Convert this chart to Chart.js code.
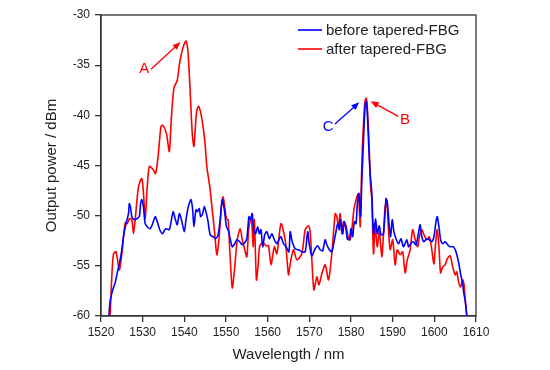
<!DOCTYPE html>
<html>
<head>
<meta charset="utf-8">
<script src="https://cdn.jsdelivr.net/npm/chart.js@4.4.1/dist/chart.umd.min.js"></script>
<style>
  html, body { margin: 0; padding: 0; background: #fff; }
  #spectrum { display: block; }
</style>
</head>
<body>
<canvas id="spectrum" width="550" height="370"></canvas>
<script>
// spectrum before the tapered FBG (blue)
const wavelengthBefore = [
  1521.9, 1522.2, 1522.8, 1523.4, 1523.9, 1524.4, 1525.0, 1525.4, 1526.0, 1526.6,
  1526.8, 1527.1, 1527.4, 1528.0, 1528.6, 1529.2, 1529.5, 1529.8, 1530.2, 1530.6,
  1531.1, 1531.8, 1532.4, 1533.0, 1533.5, 1534.1, 1534.8, 1535.3, 1535.7, 1536.4,
  1536.9, 1537.3, 1537.8, 1538.3, 1538.8, 1539.3, 1540.0, 1540.4, 1540.8, 1541.1,
  1541.6, 1542.0, 1542.3, 1542.8, 1543.1, 1543.6, 1543.9, 1544.4, 1544.8, 1545.3,
  1545.7, 1546.2, 1546.9, 1547.5, 1548.1, 1548.6, 1549.1, 1549.6, 1550.1, 1550.5,
  1551.0, 1551.5, 1552.1, 1552.6, 1553.3, 1553.9, 1554.5, 1555.0, 1555.5, 1555.8,
  1556.3, 1556.6, 1557.1, 1557.6, 1558.0, 1558.4, 1558.8, 1559.3, 1559.8, 1560.4,
  1561.0, 1561.6, 1562.2, 1562.8, 1563.2, 1563.8, 1564.4, 1565.1, 1565.4, 1565.9,
  1566.6, 1567.4, 1568.2, 1569.0, 1569.6, 1570.0, 1570.6, 1571.4, 1572.0, 1572.6,
  1573.2, 1573.8, 1574.2, 1574.8, 1575.4, 1575.8, 1576.3, 1576.8, 1577.2, 1577.5,
  1578.0, 1578.4, 1578.8, 1579.1, 1579.6, 1580.0, 1580.4, 1580.8, 1581.2, 1581.6,
  1581.9, 1582.3, 1582.6, 1583.0, 1583.4, 1583.7, 1584.0, 1584.3, 1584.6, 1585.0,
  1585.4, 1585.9, 1586.3, 1586.8, 1587.2, 1587.8, 1588.4, 1588.7, 1589.2, 1589.5,
  1589.9, 1590.3, 1590.8, 1591.4, 1592.0, 1592.6, 1593.4, 1593.8, 1594.3, 1594.9,
  1595.6, 1596.2, 1596.6, 1597.0, 1597.5, 1598.2, 1598.8, 1599.4, 1599.9, 1600.4,
  1600.7, 1601.2, 1601.5, 1602.0, 1602.6, 1603.2, 1603.8, 1604.6, 1605.2, 1605.8,
  1606.3, 1606.8, 1607.1, 1607.4, 1607.8
];
const powerBefore = [
  -60.0, -58.5, -57.4, -56.7, -55.7, -54.8, -53.4, -52.1, -50.8, -49.8,
  -48.8, -49.2, -50.1, -50.4, -50.3, -50.1, -48.8, -48.4, -49.2, -50.8,
  -51.1, -51.3, -50.8, -50.1, -50.6, -51.4, -51.8, -51.4, -51.3, -51.4,
  -50.4, -49.6, -50.3, -50.9, -49.8, -50.4, -51.6, -50.4, -49.4, -48.9,
  -48.4, -49.4, -51.1, -49.4, -49.6, -49.3, -50.1, -49.8, -49.1, -49.8,
  -50.6, -51.9, -52.1, -52.3, -51.9, -50.4, -48.4, -49.4, -51.1, -51.4,
  -52.3, -53.1, -52.8, -52.4, -52.6, -52.9, -52.7, -52.3, -50.1, -50.4,
  -49.8, -51.3, -51.8, -51.1, -51.8, -51.4, -53.1, -51.9, -51.6, -52.3,
  -51.8, -52.4, -52.8, -52.3, -52.1, -52.8, -53.1, -53.6, -51.6, -52.6,
  -53.3, -53.4, -53.6, -53.6, -51.6, -52.9, -54.0, -53.3, -53.0, -53.4,
  -53.5, -52.4, -52.9, -53.4, -53.6, -52.9, -51.8, -50.8, -51.4, -50.4,
  -51.8, -50.6, -51.3, -52.3, -52.4, -51.3, -52.1, -50.6, -50.8, -48.4,
  -47.8, -50.1, -46.5, -42.5, -39.0, -38.6, -40.5, -43.5, -45.8, -47.8,
  -51.8, -50.3, -51.8, -51.0, -51.9, -51.8, -48.3, -48.6, -51.1, -52.1,
  -50.4, -51.6, -52.3, -52.8, -52.3, -53.1, -52.4, -53.1, -52.8, -52.6,
  -52.9, -51.7, -50.9, -52.1, -52.6, -52.3, -52.4, -52.6, -52.1, -50.6,
  -50.1, -51.4, -52.4, -52.8, -52.6, -52.9, -53.1, -53.1, -53.6, -54.6,
  -55.8, -56.8, -57.8, -58.4, -60.0
];

// spectrum after the tapered FBG (red)
const wavelengthAfter = [
  1522.2, 1522.6, 1523.0, 1523.6, 1524.4, 1525.0, 1525.8, 1526.3, 1526.8, 1527.4,
  1527.8, 1528.2, 1529.0, 1529.8, 1530.2, 1530.6, 1531.1, 1531.6, 1532.5, 1533.1,
  1533.7, 1534.4, 1534.9, 1535.7, 1536.4, 1536.9, 1537.5, 1538.3, 1538.9, 1539.7,
  1540.4, 1540.9, 1541.5, 1541.9, 1542.3, 1542.9, 1543.4, 1544.1, 1544.9, 1545.4,
  1546.1, 1546.7, 1547.3, 1547.8, 1548.3, 1548.9, 1549.3, 1549.7, 1550.1, 1550.5,
  1550.9, 1551.5, 1552.1, 1552.7, 1553.4, 1553.9, 1554.5, 1555.0, 1555.5, 1556.1,
  1556.5, 1556.8, 1557.3, 1557.7, 1558.1, 1558.9, 1559.6, 1560.2, 1560.8, 1561.6,
  1562.2, 1563.2, 1564.2, 1565.0, 1565.4, 1566.2, 1567.0, 1568.2, 1569.0, 1569.8,
  1570.2, 1570.6, 1571.1, 1571.8, 1572.3, 1573.0, 1573.8, 1574.6, 1575.4, 1576.2,
  1576.6, 1577.0, 1577.4, 1577.8, 1578.2, 1578.8, 1579.4, 1579.8, 1580.2, 1580.7,
  1581.4, 1581.8, 1582.2, 1582.4, 1582.7, 1583.1, 1583.4, 1583.7, 1584.0, 1584.4,
  1584.7, 1585.0, 1585.4, 1585.8, 1586.3, 1586.8, 1587.4, 1587.8, 1588.2, 1588.6,
  1589.0, 1589.4, 1590.0, 1590.6, 1591.1, 1591.8, 1592.4, 1593.0, 1593.5, 1594.2,
  1594.8, 1595.4, 1596.0, 1596.4, 1597.0, 1597.5, 1598.2, 1598.8, 1599.4, 1599.9,
  1600.3, 1600.7, 1601.1, 1601.5, 1602.0, 1602.6, 1603.1, 1603.8, 1604.4, 1605.0,
  1605.4, 1605.8, 1606.3, 1606.8, 1607.1, 1607.4, 1607.8
];
const powerAfter = [
  -59.9, -56.0, -53.8, -53.6, -55.4, -53.8, -50.7, -50.8, -50.3, -50.4,
  -51.8, -50.4, -47.1, -46.3, -47.8, -50.3, -47.1, -45.1, -45.4, -45.8,
  -44.1, -41.1, -41.0, -41.8, -43.6, -40.2, -37.3, -36.5, -34.7, -33.2,
  -32.6, -33.8, -38.5, -41.8, -43.1, -39.8, -39.1, -40.1, -42.5, -45.1,
  -47.1, -49.4, -51.8, -53.9, -52.4, -49.1, -48.1, -49.1, -50.3, -50.4,
  -53.4, -57.2, -55.1, -52.4, -51.3, -52.4, -53.4, -54.1, -51.1, -50.3,
  -53.1, -50.4, -56.4, -55.0, -53.0, -52.7, -53.0, -53.0, -54.9, -53.1,
  -53.8, -50.8, -52.4, -55.9, -54.8, -53.4, -54.4, -53.8, -51.4, -51.0,
  -51.6, -54.4, -57.4, -56.1, -56.9, -55.8, -54.9, -56.4, -53.8, -49.8,
  -50.1, -51.1, -49.8, -51.8, -50.6, -51.0, -52.3, -52.4, -51.4, -49.4,
  -48.1, -47.8, -51.1, -48.1, -43.5, -40.0, -38.5, -38.3, -39.8, -43.5,
  -47.0, -48.4, -53.8, -51.1, -53.1, -51.6, -54.1, -51.8, -49.1, -48.8,
  -51.4, -53.4, -52.4, -54.9, -53.4, -53.9, -53.6, -55.7, -54.4, -53.4,
  -51.4, -52.4, -53.1, -52.1, -51.4, -51.9, -52.4, -52.1, -53.4, -54.8,
  -52.8, -51.4, -53.1, -55.7, -55.1, -54.9, -54.3, -54.0, -55.1, -55.9,
  -55.6, -56.6, -57.1, -56.4, -56.8, -58.4, -60.0
];

const seriesLabels = ["before tapered-FBG", "after tapered-FBG"];
const seriesColors = ["#0000ff", "#ff0000"];

const xTickValues = [1520, 1530, 1540, 1550, 1560, 1570, 1580, 1590, 1600, 1610];
const yTickValues = [-60, -55, -50, -45, -40, -35, -30];

// labelled arrows, in data units (nm, dBm)
const markLetters = ["A", "B", "C"];
const markColors = ["#ff0000", "#ff0000", "#0000ff"];
const markTextAt = [[1530.4, -35.3], [1592.95, -40.4], [1574.5, -41.05]];
const markArrowFrom = [[1532.0, -35.4], [1591.35, -40.1], [1576.15, -40.87]];
const markArrowTo = [[1539.1, -32.7], [1584.7, -38.6], [1582.0, -38.7]];

const FONT = '"Liberation Sans", Arial, sans-serif';
const INK = "#222";
Chart.defaults.font.family = FONT;
Chart.defaults.color = INK;

function toPoints(xs, ys) {
  return xs.map((x, i) => ({ x: x, y: ys[i] }));
}

function drawArrow(ctx, x1, y1, x2, y2, color) {
  const ang = Math.atan2(y2 - y1, x2 - x1);
  const len = 8, half = 3.2;
  ctx.strokeStyle = color;
  ctx.fillStyle = color;
  ctx.lineWidth = 1.3;
  ctx.beginPath();
  ctx.moveTo(x1, y1);
  ctx.lineTo(x2 - Math.cos(ang) * 4, y2 - Math.sin(ang) * 4);
  ctx.stroke();
  ctx.beginPath();
  ctx.moveTo(x2, y2);
  ctx.lineTo(x2 - len * Math.cos(ang) + half * Math.sin(ang), y2 - len * Math.sin(ang) - half * Math.cos(ang));
  ctx.lineTo(x2 - len * Math.cos(ang) - half * Math.sin(ang), y2 - len * Math.sin(ang) + half * Math.cos(ang));
  ctx.closePath();
  ctx.fill();
}

// frame, legend box and the A/B/C arrows
const extras = {
  id: "extras",
  afterDraw(chart) {
    const { ctx, chartArea: area, scales } = chart;
    const xs = scales.x, ys = scales.y;
    ctx.save();

    ctx.strokeStyle = "#333";
    ctx.lineWidth = 1.3;
    ctx.strokeRect(area.left, area.top, area.right - area.left, area.bottom - area.top);

    // legend
    ctx.font = "15px " + FONT;
    ctx.textBaseline = "middle";
    ctx.textAlign = "left";
    seriesLabels.forEach((label, i) => {
      const y = area.top + 15 + i * 19;
      ctx.strokeStyle = seriesColors[i];
      ctx.lineWidth = 1.6;
      ctx.beginPath();
      ctx.moveTo(area.left + 197, y);
      ctx.lineTo(area.left + 221, y);
      ctx.stroke();
      ctx.fillStyle = INK;
      ctx.fillText(label, area.left + 225, y + 1);
    });

    // annotations
    ctx.textAlign = "center";
    markLetters.forEach((letter, i) => {
      ctx.fillStyle = markColors[i];
      ctx.fillText(letter, xs.getPixelForValue(markTextAt[i][0]), ys.getPixelForValue(markTextAt[i][1]) + 1);
      drawArrow(ctx,
        xs.getPixelForValue(markArrowFrom[i][0]), ys.getPixelForValue(markArrowFrom[i][1]),
        xs.getPixelForValue(markArrowTo[i][0]), ys.getPixelForValue(markArrowTo[i][1]),
        markColors[i]);
    });
    ctx.restore();
  },
};

const axisGrid = {
  drawOnChartArea: false,
  drawTicks: true,
  tickLength: 6,
  color: "#333",
  lineWidth: 1.3,
};

new Chart(document.getElementById("spectrum"), {
  type: "line",
  data: {
    datasets: [
      {
        label: seriesLabels[0],
        data: toPoints(wavelengthBefore, powerBefore),
        borderColor: seriesColors[0],
        borderWidth: 1.6,
        pointRadius: 0,
        tension: 0.25,
      },
      {
        label: seriesLabels[1],
        data: toPoints(wavelengthAfter, powerAfter),
        borderColor: seriesColors[1],
        borderWidth: 1.6,
        pointRadius: 0,
        tension: 0.25,
      },
    ],
  },
  options: {
    responsive: false,
    animation: false,
    layout: { padding: { top: 15, right: 74, left: 0, bottom: 0 } },
    plugins: { legend: { display: false }, tooltip: { enabled: false } },
    scales: {
      x: {
        type: "linear",
        min: xTickValues[0],
        max: xTickValues[xTickValues.length - 1],
        afterBuildTicks: (s) => { s.ticks = xTickValues.map((v) => ({ value: v })); },
        afterFit: (s) => { s.height = 54; },
        ticks: { font: { size: 12 }, color: INK, padding: 3, maxRotation: 0, callback: (v) => String(v) },
        grid: axisGrid,
        border: { display: true, color: "#333", width: 1.3 },
        title: { display: true, text: "Wavelength / nm", font: { size: 15 }, color: INK, padding: { bottom: 6, top: 0 } },
      },
      y: {
        type: "linear",
        min: yTickValues[0],
        max: yTickValues[yTickValues.length - 1],
        afterBuildTicks: (s) => { s.ticks = yTickValues.map((v) => ({ value: v })); },
        afterFit: (s) => { s.width = 101; },
        ticks: { font: { size: 12 }, color: INK, padding: 5, callback: (v) => String(v) },
        grid: axisGrid,
        border: { display: true, color: "#333", width: 1.3 },
        title: { display: true, text: "Output power / dBm", font: { size: 15 }, color: INK, padding: { top: 43, bottom: 0 } },
      },
    },
  },
  plugins: [extras],
});
</script>
</body>
</html>
